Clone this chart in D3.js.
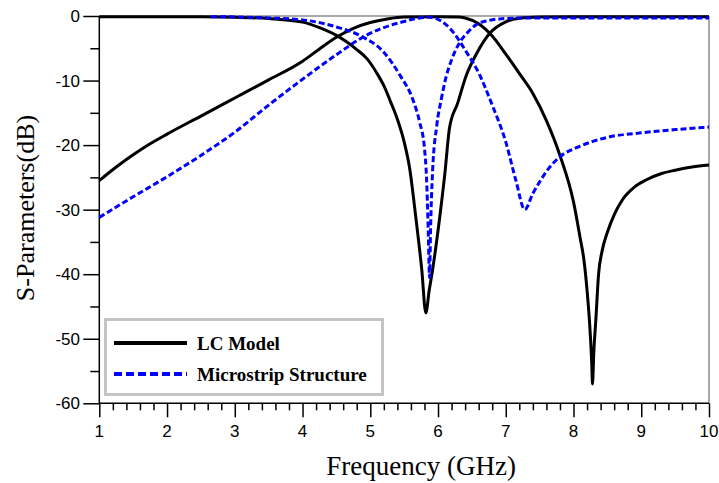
<!DOCTYPE html>
<html>
<head>
<meta charset="utf-8">
<script src="https://cdn.jsdelivr.net/npm/d3@7"></script>
<style>
  body { margin: 0; background: #fff; }
  .tick-label { font-family: "Liberation Sans", Arial, sans-serif; font-size: 17px; fill: #000; }
  .axis-title { font-family: "Liberation Serif", "Times New Roman", serif; fill: #000; }
  .legend-text { font-family: "Liberation Serif", "Times New Roman", serif; font-weight: bold; font-size: 19px; fill: #000; }
</style>
</head>
<body>
<div id="chart"></div>
<script>
// LC model, transmission (S21)
const lcS21Freq = [1.0, 1.25, 1.5, 1.75, 2.0, 2.5, 3.0, 3.5, 4.0, 4.25, 4.5, 4.75, 5.0, 5.25, 5.5, 6.0, 6.3, 6.4, 6.6, 6.8, 7.0, 7.2, 7.4, 7.6, 7.8, 8.0, 8.1, 8.15, 8.2, 8.24, 8.27, 8.28, 8.3, 8.33, 8.37, 8.42, 8.5, 8.6, 8.72, 8.9, 9.07, 9.3, 9.5, 9.75, 10.0];
const lcS21dB   = [-25.5, -23.4, -21.5, -19.8, -18.3, -15.5, -12.7, -9.9, -7.0, -5.1, -3.3, -1.9, -1.0, -0.45, -0.15, -0.1, -0.15, -0.3, -1.2, -3.1, -5.9, -8.9, -12.0, -16.2, -21.6, -28.8, -34.5, -37.5, -42.5, -48.0, -54.0, -57.0, -52.0, -47.0, -40.0, -36.5, -33.5, -30.8, -28.5, -26.5, -25.4, -24.4, -23.9, -23.4, -23.1];

// LC model, reflection (S11)
const lcS11Freq = [1.0, 2.0, 2.5, 3.0, 3.5, 4.0, 4.25, 4.5, 4.65, 4.8, 4.95, 5.1, 5.2, 5.3, 5.4, 5.5, 5.58, 5.67, 5.76, 5.82, 5.87, 5.92, 6.02, 6.1, 6.17, 6.29, 6.41, 6.57, 6.76, 7.0, 7.2, 7.5, 8.0, 10.0];
const lcS11dB   = [-0.1, -0.1, -0.12, -0.2, -0.4, -0.95, -1.8, -3.0, -4.0, -5.2, -6.6, -8.9, -10.8, -13.3, -16.0, -19.5, -23.5, -31.0, -39.3, -46.0, -42.5, -39.3, -31.6, -24.5, -17.3, -13.5, -9.4, -5.8, -2.7, -0.9, -0.35, -0.15, -0.1, -0.1];

// Microstrip structure, transmission (S21)
const msS21Freq = [1.0, 1.5, 2.0, 2.5, 3.0, 3.5, 4.0, 4.5, 4.94, 5.2, 5.48, 5.7, 5.88, 6.05, 6.2, 6.42, 6.6, 6.8, 7.0, 7.15, 7.28, 7.4, 7.5, 7.65, 7.8, 8.09, 8.5, 9.0, 9.5, 10.0];
const msS21dB   = [-31.2, -28.0, -24.9, -21.6, -18.0, -13.8, -9.8, -6.0, -3.0, -1.8, -0.9, -0.35, -0.2, -0.8, -2.2, -5.6, -8.8, -13.8, -19.5, -25.5, -30.0, -27.5, -25.7, -23.4, -21.8, -20.2, -18.8, -18.1, -17.6, -17.2];

// Microstrip structure, reflection (S11)
const msS11Freq = [2.65, 3.0, 3.5, 4.0, 4.5, 4.88, 5.18, 5.44, 5.63, 5.73, 5.8, 5.83, 5.855, 5.875, 5.89, 5.92, 5.98, 6.05, 6.12, 6.2, 6.32, 6.45, 6.57, 6.75, 6.91, 7.3, 10.0];
const msS11dB   = [-0.1, -0.15, -0.3, -0.6, -1.7, -3.2, -5.4, -9.2, -13.0, -16.5, -20.5, -25.0, -33.0, -40.5, -33.0, -24.0, -17.1, -12.8, -9.4, -6.8, -4.1, -2.4, -1.3, -0.7, -0.45, -0.3, -0.3];

const xTicks = [1, 2, 3, 4, 5, 6, 7, 8, 9, 10];
const yTicks = [0, -10, -20, -30, -40, -50, -60];
const legendLabels = ["LC Model", "Microstrip Structure"];

const W = 719, H = 483;
const plotLeft = 99.3, plotRight = 709, plotTop = 16, plotBottom = 403.3;

const svg = d3.select("#chart").append("svg")
    .attr("width", W)
    .attr("height", H);

const x = d3.scaleLinear().domain([1, 10]).range([plotLeft, plotRight]);
const y = d3.scaleLinear().domain([-60, 0]).range([plotBottom, plotTop]);

// frame: grey top/right, black left/bottom
svg.append("line").attr("x1", plotLeft).attr("x2", plotRight).attr("y1", plotTop).attr("y2", plotTop)
    .attr("stroke", "#8c8c8c").attr("stroke-width", 1.5);
svg.append("line").attr("x1", plotRight).attr("x2", plotRight).attr("y1", plotTop).attr("y2", plotBottom)
    .attr("stroke", "#8c8c8c").attr("stroke-width", 1.5);

// x axis
const xAxis = svg.append("g")
    .attr("transform", "translate(0," + plotBottom + ")")
    .call(d3.axisBottom(x).tickValues(d3.range(1, 10.001, 0.2)).tickSize(7).tickFormat(""));
xAxis.selectAll(".tick line")
    .attr("y2", d => xTicks.some(t => Math.abs(t - d) < 1e-6) ? 14 : 7)
    .attr("stroke-width", 1.5);
xAxis.select(".domain").attr("stroke-width", 1.5).attr("d", "M" + plotLeft + ",0H" + plotRight);

svg.append("g").selectAll("text")
    .data(xTicks)
    .join("text")
    .attr("class", "tick-label")
    .attr("x", d => x(d))
    .attr("y", 437)
    .attr("text-anchor", "middle")
    .text(d => d);

// y axis
const yAxis = svg.append("g")
    .attr("transform", "translate(" + plotLeft + ",0)")
    .call(d3.axisLeft(y).tickValues(d3.range(-60, 0.001, 5)).tickSize(9).tickFormat(""));
yAxis.selectAll(".tick line")
    .attr("x2", d => d % 10 === 0 ? -16 : -9)
    .attr("stroke-width", 1.5);
yAxis.select(".domain").attr("stroke-width", 1.5).attr("d", "M0," + plotTop + "V" + plotBottom);

svg.append("g").selectAll("text")
    .data(yTicks)
    .join("text")
    .attr("class", "tick-label")
    .attr("x", 80)
    .attr("y", d => y(d))
    .attr("dy", "0.36em")
    .attr("text-anchor", "end")
    .text(d => d);

// axis titles
svg.append("text")
    .attr("class", "axis-title")
    .attr("x", (plotLeft + plotRight) / 2 + 17)
    .attr("y", 475)
    .attr("text-anchor", "middle")
    .style("font-size", "27px")
    .text("Frequency (GHz)");

svg.append("text")
    .attr("class", "axis-title")
    .attr("transform", "translate(34,208) rotate(-90)")
    .attr("text-anchor", "middle")
    .style("font-size", "26px")
    .text("S-Parameters(dB)");

// curves
const line = d3.line()
    .x(d => x(d[0]))
    .y(d => y(d[1]))
    .curve(d3.curveMonotoneX);

const series = [
    {f: lcS11Freq, v: lcS11dB, color: "#000", dash: null},
    {f: lcS21Freq, v: lcS21dB, color: "#000", dash: null},
    {f: msS11Freq, v: msS11dB, color: "#0000ff", dash: "6,3"},
    {f: msS21Freq, v: msS21dB, color: "#0000ff", dash: "6,3"}
];

series.forEach(s => {
    svg.append("path")
        .datum(d3.zip(s.f, s.v))
        .attr("fill", "none")
        .attr("stroke", s.color)
        .attr("stroke-width", 3)
        .attr("stroke-dasharray", s.dash)
        .attr("stroke-linejoin", "round")
        .attr("d", line);
});

// legend
const legend = svg.append("g");
legend.append("rect")
    .attr("x", 105.5).attr("y", 319.5)
    .attr("width", 277).attr("height", 75)
    .attr("fill", "#fff")
    .attr("stroke", "#c4c4c4")
    .attr("stroke-width", 3);

const legendItems = [
    {label: legendLabels[0], color: "#000", dash: null, y: 343},
    {label: legendLabels[1], color: "#0000ff", dash: "8,4", y: 374}
];
legendItems.forEach(it => {
    legend.append("line")
        .attr("x1", 114).attr("x2", 187)
        .attr("y1", it.y).attr("y2", it.y)
        .attr("stroke", it.color)
        .attr("stroke-width", 4)
        .attr("stroke-dasharray", it.dash);
    legend.append("text")
        .attr("class", "legend-text")
        .attr("x", 197)
        .attr("y", it.y + 7)
        .text(it.label);
});
</script>
</body>
</html>
